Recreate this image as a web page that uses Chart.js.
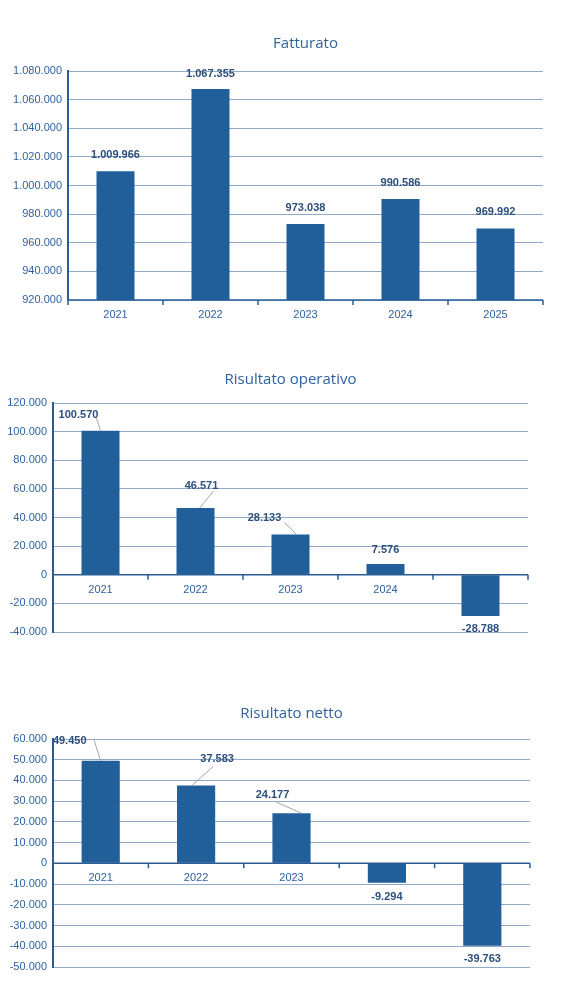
<!DOCTYPE html>
<html><head><meta charset="utf-8">
<script src="https://cdn.jsdelivr.net/npm/chart.js@4"></script>
<style>body{margin:0;background:#fff;width:579px;height:1006px;position:relative;overflow:hidden}
.c{position:absolute;left:0;width:579px}</style></head>
<body>
<div class="c" style="top:0;height:340px"><canvas id="c1"></canvas></div>
<div class="c" style="top:340px;height:320px"><canvas id="c2"></canvas></div>
<div class="c" style="top:660px;height:346px"><canvas id="c3"></canvas></div>
<script>
const years = ['2021','2022','2023','2024','2025'];
const fatturato = [1009966, 1067355, 973038, 990586, 969992];
const risultatoOperativo = [100570, 46571, 28133, 7576, -28788];
const risultatoNetto = [49450, 37583, 24177, -9294, -39763];
const titles = ['Fatturato','Risultato operativo','Risultato netto'];

const BAR='#215f9a', GRID='#8fabc9', AXIS='#2a5d96', TXT='#2f62a0', LBL='#2c4f7c';
function fmt(v){const s=Math.abs(Math.round(v)).toString().replace(/\B(?=(\d{3})+(?!\d))/g,'.');return (v<0?'-':'')+s;}

const overlay={
  id:'overlay',
  beforeDatasetsDraw(chart,a,o){
    const ctx=chart.ctx,ca=chart.chartArea,x=chart.scales.x,y=chart.scales.y;
    const base=y.getPixelForValue(Math.max(y.min,0));
    ctx.save();
    ctx.font='11px "Liberation Sans", Arial';ctx.fillStyle=TXT;ctx.textAlign='center';ctx.textBaseline='middle';
    chart.data.labels.forEach((l,i)=>ctx.fillText(l,x.getPixelForValue(i),base+15));
    ctx.restore();
  },
  afterDatasetsDraw(chart,a,o){
    const ctx=chart.ctx,ca=chart.chartArea,x=chart.scales.x,y=chart.scales.y;
    const base=y.getPixelForValue(Math.max(y.min,0));
    ctx.save();
    ctx.strokeStyle=AXIS;ctx.lineWidth=1.5;
    ctx.beginPath();ctx.moveTo(ca.left,base);ctx.lineTo(ca.right,base);
    const n=chart.data.labels.length,w=(ca.right-ca.left)/n;
    for(let i=0;i<=n;i++){const px=ca.left+i*w;ctx.moveTo(px,base);ctx.lineTo(px,base+5);}
    ctx.stroke();
    // title
    ctx.font='15px "Open Sans"';ctx.fillStyle=TXT;ctx.textAlign='center';ctx.textBaseline='middle';
    ctx.fillText(o.title,(ca.left+ca.right)/2,o.titleY);
    // data labels
    const meta=chart.getDatasetMeta(0);
    ctx.font='bold 11px "Liberation Sans", Arial';ctx.fillStyle=LBL;
    meta.data.forEach((b,i)=>{
      const v=chart.data.datasets[0].data[i];
      const off=o.offsets[i];
      const lx=b.x+off[0],ly=b.y+off[1];
      if(off[2]){
        ctx.strokeStyle='#a6a6a6';ctx.lineWidth=1;ctx.beginPath();
        ctx.moveTo(lx+off[2][0],ly+off[2][1]);ctx.lineTo(b.x+(off[2][2]||0),b.y);ctx.stroke();
      }
      ctx.fillText(fmt(v),lx,ly);
    });
    ctx.restore();
  }
};

function make(id,data,box,h,min,max,step,titleY,offsets,title){
  const [L,T,R,B]=box;
  new Chart(document.getElementById(id),{
    type:'bar',
    data:{labels:years,datasets:[{data,backgroundColor:BAR,barPercentage:0.4,categoryPercentage:1}]},
    plugins:[overlay],
    options:{
      responsive:true,maintainAspectRatio:false,animation:false,
      layout:{padding:{left:0,right:579-R,top:T,bottom:h-B}},
      plugins:{legend:{display:false},tooltip:{enabled:false},overlay:{title,titleY,offsets}},
      scales:{
        x:{ticks:{display:false},grid:{display:false,drawTicks:false},border:{display:false},afterFit(s){s.height=0;}},
        y:{min,max,ticks:{stepSize:step,callback:v=>fmt(v),color:TXT,font:{size:11,family:'"Liberation Sans", Arial'},padding:6},
           grid:{color:GRID,drawTicks:false,lineWidth:1},border:{display:true,color:AXIS,width:2},
           afterFit(s){s.width=L;}}
      }
    }
  });
}
make('c1',fatturato,[68,71,543,300],340,920000,1080000,20000,44,
  [[0,-16],[0,-15],[0,-16],[0,-16],[0,-16]],titles[0]);
make('c2',risultatoOperativo,[53,63,528,292],320,-40000,120000,20000,40,
  [[-22,-16,[18,3,0]],[6,-22,[12,5,4]],[-26,-17,[20,5,6]],[0,-14],[0,13]],titles[1]);
make('c3',risultatoNetto,[53,79,530,307],346,-50000,60000,10000,54,
  [[-31,-20,[24,-2,0]],[21,-26,[-4,7,-4]],[-19,-18,[4,7,10]],[0,14],[0,13]],titles[2]);
</script>
</body></html>
